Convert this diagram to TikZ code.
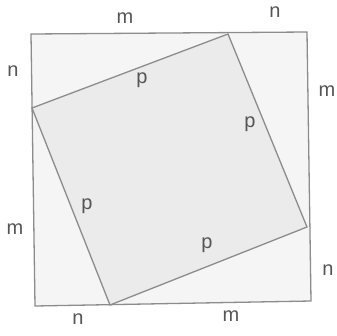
\documentclass[tikz,border=0pt]{standalone}
\usepackage{fontspec}
\setmainfont{Liberation Sans}
\definecolor{edge}{HTML}{8C8C8C}
\definecolor{ink}{HTML}{555555}
\definecolor{outerfill}{HTML}{F5F5F5}
\definecolor{innerfill}{HTML}{EBEBEB}
\begin{document}
\begin{tikzpicture}[x=1pt, y=-1pt,
    side/.style={draw=edge, line width=1.3pt},
    lbl/.style={text=ink, font=\fontsize{20}{22}\selectfont, inner sep=0pt}]
    \useasboundingbox (0,0) rectangle (337,335);
    % Hình vuông ngoài
    \coordinate (A) at (31,34);
    \coordinate (B) at (307,32);
    \coordinate (C) at (311,301);
    \coordinate (D) at (35,306);
    % Hình vuông trong
    \coordinate (P) at (228,34);
    \coordinate (Q) at (307,227);
    \coordinate (R) at (110,305);
    \coordinate (S) at (32,108);
    \filldraw[side, fill=outerfill] (A) -- (B) -- (C) -- (D) -- cycle;
    \filldraw[side, fill=innerfill] (P) -- (Q) -- (R) -- (S) -- cycle;
    % Nhãn các cạnh
    \node[lbl] (mt) at (125,18) {m};
    \node[lbl] (nt) at (275,12) {n};
    \node[lbl] (nl) at (13,71) {n};
    \node[lbl] (mr) at (327,91) {m};
    \node[lbl] (ml) at (15,229) {m};
    \node[lbl] (nr) at (328,270) {n};
    \node[lbl] (nb) at (78,319) {n};
    \node[lbl] (mb) at (231,316) {m};
    \node[lbl] (p1) at (142,80) {p};
    \node[lbl] (p2) at (250,124) {p};
    \node[lbl] (p3) at (87,206) {p};
    \node[lbl] (p4) at (207,245) {p};
\end{tikzpicture}
\end{document}
